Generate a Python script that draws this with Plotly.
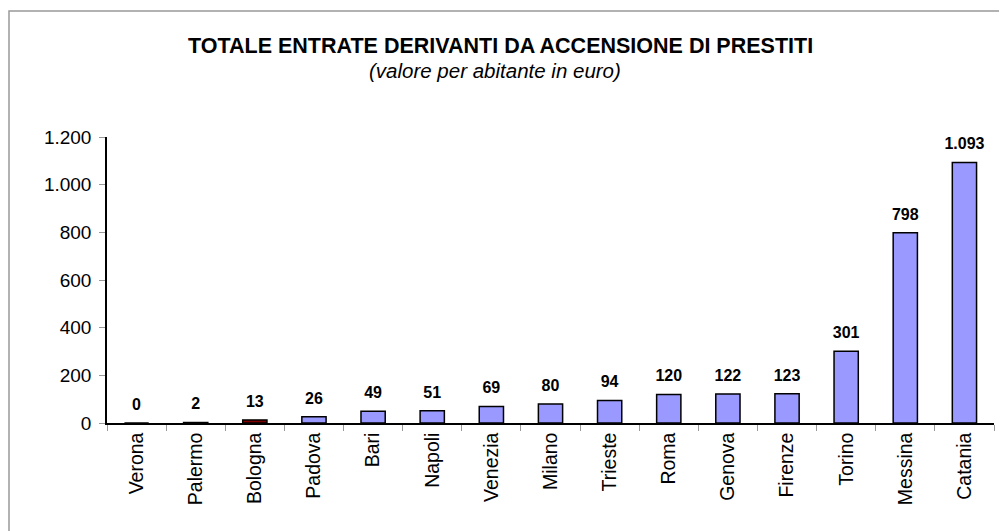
import plotly.graph_objects as go

# valori per abitante in euro
citta = ["Verona", "Palermo", "Bologna", "Padova", "Bari", "Napoli", "Venezia", "Milano",
         "Trieste", "Roma", "Genova", "Firenze", "Torino", "Messina", "Catania"]
valori = [0, 2, 13, 26, 49, 51, 69, 80, 94, 120, 122, 123, 301, 798, 1093]
y_ticks = [0, 200, 400, 600, 800, 1000, 1200]

colori = ["#800000" if c == "Bologna" else "#9999FF" for c in citta]

W, H = 1007, 531
L, R, T, B = 99, 21, 129, 116   # page body adds 8px offset
plot_w = W - L - R
plot_h = H - T - B


def px_x(x):
    return (x - L) / plot_w


def px_y(y):
    return (H - B - y) / plot_h


fig = go.Figure()
fig.add_trace(go.Bar(
    x=citta, y=valori,
    marker=dict(color=colori, line=dict(color="black", width=1.5)),
    width=0.41,
))
# etichette sopra le barre (marker invisibile solo per distanziare il testo)
fig.add_trace(go.Scatter(
    x=citta, y=valori, mode="markers+text",
    text=valori, texttemplate="%{y:,}", textposition="top center",
    marker=dict(size=13, opacity=0),
    textfont=dict(family="Liberation Sans, Arial", size=16, color="black", weight="bold"),
    cliponaxis=False, hoverinfo="skip",
))

fig.update_layout(
    width=W, height=H,
    margin=dict(l=L, r=R, t=T, b=B),
    paper_bgcolor="white", plot_bgcolor="white",
    separators=",.",
    showlegend=False,
    font=dict(family="Liberation Sans, Arial", color="black"),
)

fig.add_annotation(text="<b>TOTALE ENTRATE DERIVANTI DA ACCENSIONE DI PRESTITI</b>",
                   x=px_x(492), y=px_y(38), xref="paper", yref="paper", showarrow=False,
                   xanchor="center", yanchor="middle", font=dict(size=21.5))
fig.add_annotation(text="<i>(valore per abitante in euro)</i>",
                   x=px_x(487), y=px_y(63), xref="paper", yref="paper", showarrow=False,
                   xanchor="center", yanchor="middle", font=dict(size=20.5))

# cornice esterna
fig.add_shape(type="rect", xref="paper", yref="paper",
              x0=px_x(1), x1=px_x(1012), y0=px_y(540), y1=px_y(3),
              line=dict(color="#999999", width=1.5), fillcolor="rgba(0,0,0,0)",
              layer="below")

fig.update_xaxes(
    range=[-0.5, len(citta) - 0.5],
    showline=True, linecolor="black", linewidth=1.5,
    ticks="outside", tickson="boundaries", tickcolor="#999999", ticklen=6,
    tickangle=-90, tickfont=dict(size=19.5),
    showgrid=False,
)
fig.update_yaxes(
    range=[0, 1200], tickvals=y_ticks, tickformat=",",
    showline=True, linecolor="black", linewidth=1.5,
    ticks="outside", tickcolor="#999999", ticklen=6, ticklabelstandoff=4,
    tickfont=dict(size=19),
    showgrid=False, zeroline=False,
)

fig.write_html("out.html")
